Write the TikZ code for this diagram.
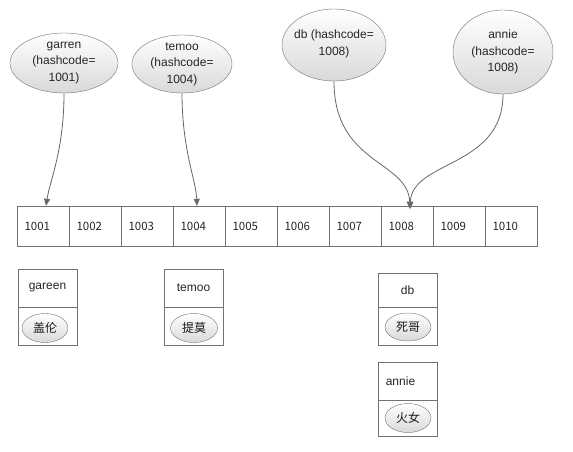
\documentclass[tikz,border=0pt]{standalone}
\usepackage{fontspec}
\setmainfont{Liberation Sans}
\newfontfamily\cjk{Noto Sans CJK SC}
\usetikzlibrary{shapes.geometric,arrows.meta}
\begin{document}
\begin{tikzpicture}[x=1pt,y=-1pt,
  bubble/.style={ellipse,draw=black!55,top color=white,bottom color=black!15,inner sep=0pt},
  btext/.style={align=center,inner sep=0pt,font=\fontsize{12}{16.5}\selectfont,text=black!85},
  cell/.style={rectangle,draw=black!55,minimum width=52pt,minimum height=40pt,inner sep=0pt,
    text width=37pt,align=left,font=\cjk\fontsize{11.5}{13}\selectfont,text=black!85},
  boxpart/.style={rectangle,draw=black!55,minimum width=59pt,inner sep=0pt,
    font=\fontsize{12}{14}\selectfont,text=black!85},
  small/.style={ellipse,draw=black!55,top color=white,bottom color=black!15,inner sep=0pt,
    minimum width=46pt,minimum height=29pt,font=\cjk\fontsize{12}{14}\selectfont,text=black!90},
  link/.style={draw=black!60,line width=0.8pt,-{Triangle[length=7pt,width=6pt]}}
]
\useasboundingbox (0,0) rectangle (573,451);
\fill[white] (0,0) rectangle (573,451);

% key ellipses
\node[bubble,minimum width=108pt,minimum height=60pt] (e1) at (64,63) {};
\node[btext] (t1) at (64,63) {garren\\(hashcode=\\1001)};
\node[bubble,minimum width=100pt,minimum height=58pt] (e2) at (182,64) {};
\node[btext] (t2) at (182,64) {temoo\\(hashcode=\\1004)};
\node[bubble,minimum width=104pt,minimum height=72pt] (e3) at (334,45) {};
\node[btext] (t3) at (334,44) {db (hashcode=\\1008)};
\node[bubble,minimum width=100pt,minimum height=84pt] (e4) at (503,52) {};
\node[btext] (t4) at (503,52) {annie\\(hashcode=\\1008)};

% array
\foreach \i/\v in {1/1001,2/1002,3/1003,4/1004,5/1005,6/1006,7/1007,8/1008,9/1009,10/1010}{
  \node[cell] (c\v) at ({17+52*(\i-1)+26},226) {\v};
}
\coordinate (tip8) at ([xshift=3pt,yshift=-3pt]c1008.north);

% arrows
\draw[link] (e1.south) .. controls (64,150) and (50,180) .. ([xshift=3pt]c1001.north);
\draw[link] (e2.south) .. controls (182,150) and (196,180) .. ([xshift=-2pt]c1004.north);
\draw[link] (e3.south) .. controls (334,165) and (408,160) .. (tip8);
\draw[link] (e4.south) .. controls (503,168) and (412,160) .. (tip8);

% entry boxes
\node[boxpart,minimum height=38pt] (g1) at (47.5,288) {gareen};
\node[boxpart,minimum height=38pt] (g2) at (47.5,326) {};
\node[small] (g3) at (45,328) {盖伦};

\node[boxpart,minimum height=38pt] (m1) at (193.5,288) {temoo};
\node[boxpart,minimum height=38pt] (m2) at (193.5,326) {};
\node[small,minimum width=47pt] (m3) at (194,328) {提莫};

\node[boxpart,minimum height=34pt] (d1) at (407.5,290) {db};
\node[boxpart,minimum height=38pt] (d2) at (407.5,326) {};
\node[small,minimum height=28pt] (d3) at (408,327) {死哥};

\node[boxpart,minimum height=38pt] (a1) at (407.5,381) {\hspace*{-14pt}annie};
\node[boxpart,minimum height=36pt] (a2) at (407.5,418) {};
\node[small] (a3) at (408,418) {火女};
\end{tikzpicture}
\end{document}
